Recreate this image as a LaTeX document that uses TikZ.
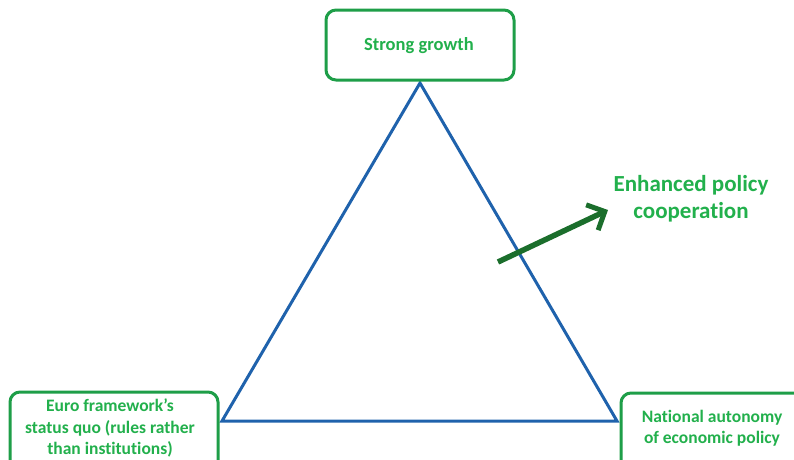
\documentclass[tikz,border=0pt]{standalone}
\usepackage{fontspec}
\setmainfont{Carlito}[Ligatures={NoCommon}]
\usetikzlibrary{arrows.meta}
\definecolor{boxgreen}{HTML}{1E9E48}
\definecolor{txtgreen}{HTML}{22B04C}
\definecolor{triblue}{HTML}{1F62AC}
\definecolor{arrgreen}{HTML}{1B6E2C}
\begin{document}
\begin{tikzpicture}[x=1pt,y=-1pt,
  gbox/.style={draw=boxgreen,line width=3pt,rounded corners=10pt,fill=white},
  gtext/.style={text=txtgreen,font=\bfseries\fontsize{17.5}{21.5}\selectfont,align=center},
  bigtext/.style={text=txtgreen,font=\bfseries\fontsize{23}{27}\selectfont,align=center}]
\useasboundingbox (0,0) rectangle (794,459);
% triangle
\coordinate (A) at (420,83);
\coordinate (B) at (222,421);
\coordinate (C) at (617,421);
\draw[triblue,line width=3pt,line join=miter] (A) -- (B) -- (C) -- cycle;
% boxes
\draw[gbox] (326,10) rectangle (514,80);
\node[gtext,font=\bfseries\fontsize{18.5}{22}\selectfont] (top) at (419,46) {Strong growth};
\draw[gbox] (10,392) rectangle (218,475);
\node[gtext] (left) at (110,428) {Euro framework's\\status quo (rules rather\\than institutions)};
\draw[gbox] (621,393) rectangle (810,475);
\node[gtext] (right) at (712,428) {National autonomy\\of economic policy};
% arrow
\coordinate (s) at (498,262);
\coordinate (e) at (608,210);
\draw[arrgreen,line width=5.5pt,-{Straight Barb[length=14pt,width=28pt,line width=5pt]}] (s) -- (e);
\node[bigtext] (enh) at (691,199) {Enhanced policy\\cooperation};
\end{tikzpicture}
\end{document}
